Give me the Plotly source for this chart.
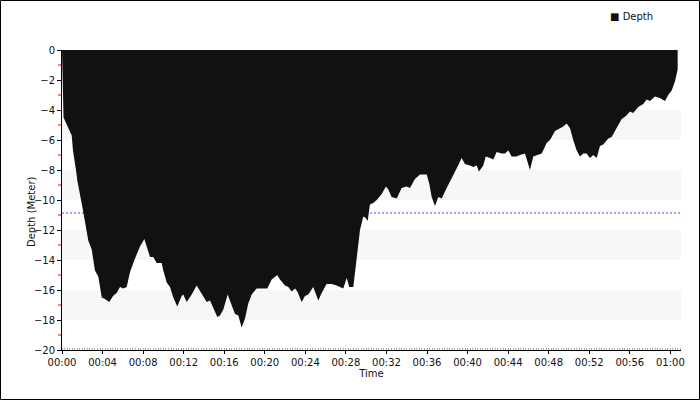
import plotly.graph_objects as go

# Dive profile: elapsed time (minutes) and depth (meters, negative = below surface)
time_min = [0.0, 0.05, 0.1, 0.15, 0.96, 1.08, 1.38, 1.51, 2.10, 2.59, 2.93, 3.25, 3.58, 3.92, 4.24, 4.66,
            5.03, 5.39, 5.72, 6.05, 6.38, 6.71, 7.20, 7.69, 8.12, 8.35, 8.68, 9.00, 9.34, 9.83, 9.99,
            10.33, 10.65, 10.98, 11.37, 11.80, 11.96, 12.30, 12.79, 13.28, 13.78, 14.27, 14.60, 14.92,
            15.32, 15.58, 15.91, 16.34, 16.74, 17.06, 17.39, 17.72, 18.05, 18.37, 18.71, 19.20, 19.69,
            20.25, 20.68, 21.23, 21.50, 21.99, 22.32, 22.65, 22.98, 23.21, 23.64, 23.96, 24.29, 24.78,
            25.28, 25.61, 26.10, 26.60, 27.09, 27.74, 28.08, 28.33, 28.73, 28.90, 29.12, 29.39, 29.71,
            29.95, 30.15, 30.37, 30.70, 31.04, 31.53, 31.95, 32.18, 32.51, 33.01, 33.50, 33.99, 34.32,
            34.81, 35.31, 35.97, 36.22, 36.46, 36.79, 37.11, 37.45, 37.94, 38.43, 38.92, 39.42, 39.74,
            40.24, 40.56, 40.90, 41.12, 41.55, 41.79, 42.21, 42.54, 42.87, 43.36, 43.69, 44.02, 44.35,
            44.84, 45.17, 45.66, 45.89, 46.15, 46.48, 46.81, 47.31, 47.80, 48.13, 48.62, 48.95, 49.44,
            49.77, 50.10, 50.42, 50.76, 51.08, 51.41, 51.74, 52.07, 52.40, 52.73, 53.06, 53.38, 53.88,
            54.21, 54.70, 55.20, 55.62, 56.02, 56.34, 56.83, 57.33, 57.66, 57.99, 58.48, 58.97, 59.47,
            59.79, 60.13, 60.45, 60.72]
depth_m = [0.0, -1.5, -2.5, -4.5, -5.7, -6.7, -8.0, -8.7, -10.8, -12.7, -13.3, -14.7, -15.1, -16.5, -16.6, -16.8,
           -16.4, -16.2, -15.8, -15.9, -15.8, -14.8, -13.9, -13.1, -12.6, -13.1, -13.8, -13.8, -14.2, -14.2, -14.7,
           -15.5, -15.8, -16.5, -17.1, -16.4, -16.3, -16.8, -16.3, -15.7, -16.3, -16.8, -16.7, -17.2,
           -17.8, -17.7, -17.3, -16.3, -17.1, -17.6, -17.7, -18.5, -17.9, -16.9, -16.3, -15.9, -15.9,
           -15.9, -15.3, -15.0, -15.3, -15.7, -15.8, -16.1, -15.9, -16.1, -16.8, -16.4, -16.3, -15.8,
           -16.7, -16.2, -15.6, -15.6, -15.7, -15.9, -15.2, -15.8, -15.8, -14.7, -13.3, -12.0, -11.1,
           -11.2, -11.4, -10.3, -10.2, -10.0, -9.6, -9.1, -9.3, -9.8, -9.9, -9.2, -9.1, -9.2,
           -8.6, -8.3, -8.3, -8.9, -9.8, -10.4, -9.8, -9.9, -9.2, -8.6, -7.9, -7.2, -7.6,
           -7.7, -7.8, -7.7, -8.1, -7.7, -7.1, -7.2, -7.3, -6.8, -6.9, -6.9, -6.7, -7.1,
           -7.1, -7.0, -6.9, -7.4, -8.0, -7.1, -7.0, -6.9, -6.2, -6.0, -5.4, -5.3, -5.1,
           -4.9, -5.2, -6.0, -6.7, -7.1, -6.9, -6.9, -7.2, -7.0, -7.2, -6.4, -6.3, -5.9,
           -5.8, -5.2, -4.6, -4.4, -4.1, -4.2, -3.8, -3.6, -3.3, -3.4, -3.1, -3.2, -3.4,
           -3.0, -2.7, -2.1, -1.3]

average_depth = -10.87
x_tick_vals = [0, 4, 8, 12, 16, 20, 24, 28, 32, 36, 40, 44, 48, 52, 56, 60]
x_tick_text = ["00:00", "00:04", "00:08", "00:12", "00:16", "00:20", "00:24", "00:28", "00:32",
               "00:36", "00:40", "00:44", "00:48", "00:52", "00:56", "01:00"]
y_tick_vals = [0, -2, -4, -6, -8, -10, -12, -14, -16, -18, -20]
y_minor_vals = [-1, -3, -5, -7, -9, -11, -13, -15, -17, -19]
band_ranges = [(-4, -6), (-8, -10), (-12, -14), (-16, -18)]
legend_label = "Depth"
y_title = "Depth (Meter)"
x_title = "Time"

X_MAX = 61.05
FONT = "DejaVu Sans"
TXT = "#111111"

fig = go.Figure()
fig.add_trace(go.Scatter(
    x=time_min, y=depth_m, mode="lines", fill="tozeroy", name=legend_label,
    fillcolor="#111111", line=dict(color="#111111", width=0),
    showlegend=False, hoverinfo="x+y"))

L, R, T, B = 62, 19, 50, 50
PW, PH = 700 - L - R, 400 - T - B

shapes = []
for y0, y1 in band_ranges:
    shapes.append(dict(type="rect", xref="x", yref="y", x0=0, x1=X_MAX, y0=y0, y1=y1,
                       fillcolor="#f7f7f7", line=dict(width=0), layer="below"))
shapes.append(dict(type="line", xref="x", yref="y", x0=0, x1=X_MAX, y0=average_depth, y1=average_depth,
                   line=dict(color="#4d4dff", width=1, dash="2px,2px"), layer="below"))
# red minor tick marks on the depth axis
for v in y_minor_vals:
    shapes.append(dict(type="line", xref="paper", yref="y", x0=-4 / PW, x1=-1 / PW, y0=v, y1=v,
                       line=dict(color="#ff0000", width=1), layer="above"))
# outer frame
shapes.append(dict(type="rect", xref="paper", yref="paper",
                   x0=(0.5 - L) / PW, x1=(699.5 - L) / PW,
                   y0=(PH + T - 399.5) / PH, y1=(PH + T - 0.5) / PH,
                   line=dict(color="black", width=1), fillcolor="rgba(0,0,0,0)", layer="above"))

annotations = [
    dict(xref="paper", yref="paper", x=(608 - L) / PW, y=(PH + T - 16) / PH,
         xanchor="left", yanchor="middle", showarrow=False,
         text="\u25A0 " + legend_label, font=dict(size=10, family=FONT, color=TXT)),
    dict(xref="paper", yref="paper", x=(31 - L) / PW, y=(PH + T - 212) / PH,
         xanchor="center", yanchor="middle", showarrow=False, textangle=-90,
         text=y_title, font=dict(size=10, family=FONT, color=TXT)),
]

fig.update_layout(
    width=700, height=400,
    margin=dict(l=L, r=R, t=T, b=B, pad=0, autoexpand=False),
    paper_bgcolor="white", plot_bgcolor="white",
    font=dict(family=FONT, size=10, color=TXT),
    shapes=shapes, annotations=annotations,
    showlegend=False,
    xaxis=dict(range=[0, X_MAX], tickvals=x_tick_vals, ticktext=x_tick_text,
               showgrid=False, zeroline=False, showline=True, linecolor="black", linewidth=1,
               ticks="outside", ticklen=3, tickcolor="black",
               minor=dict(dtick=0.25, ticks="inside", ticklen=2, tickcolor="#aaaaaa", showgrid=False),
               title=dict(text=x_title, standoff=0, font=dict(size=10, family=FONT)),
               tickfont=dict(size=10, family=FONT), fixedrange=True),
    yaxis=dict(range=[-20, 0], tickvals=y_tick_vals,
               showgrid=False, zeroline=False, showline=True, linecolor="black", linewidth=1,
               ticks="outside", ticklen=4, tickcolor="black",
               tickfont=dict(size=10, family=FONT), fixedrange=True),
)

fig.write_html("out.html", config={"displayModeBar": False},
               post_script="document.body.style.margin='0px';")
